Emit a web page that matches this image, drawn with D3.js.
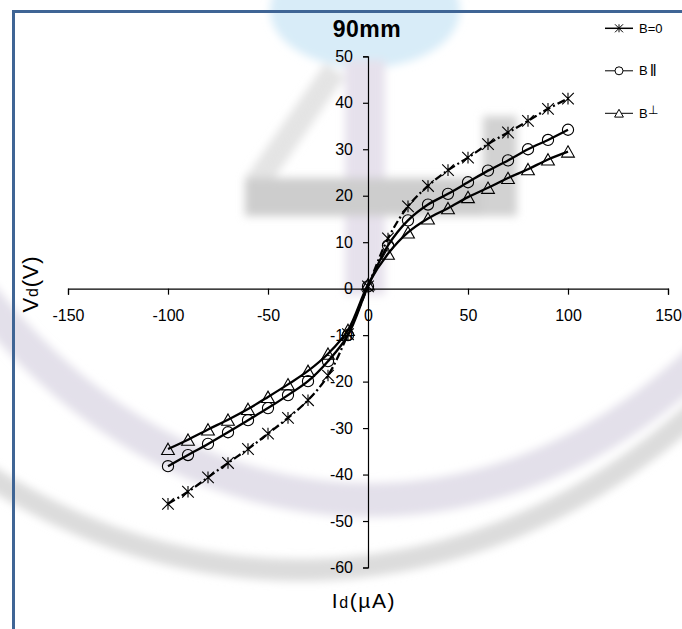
<!DOCTYPE html>
<html>
<head>
<meta charset="utf-8">
<script src="https://cdn.jsdelivr.net/npm/d3@7"></script>
<style>
  html, body { margin: 0; padding: 0; background: #fff; }
  svg { display: block; font-family: "Liberation Sans", Arial, sans-serif; }
</style>
</head>
<body>
<svg id="chart" width="682" height="629"></svg>
<script>
// Diode current (µA) and voltage (V) readings at 90 mm
const current = [-100, -90, -80, -70, -60, -50, -40, -30, -20, -10, 0, 10, 20, 30, 40, 50, 60, 70, 80, 90, 100];
const voltB0   = [-46.3, -43.7, -40.6, -37.5, -34.5, -31.2, -27.8, -24.0, -18.7, -9.8, 0.5, 10.8, 17.7, 22.1, 25.5, 28.2, 31.1, 33.6, 36.1, 38.7, 40.9];
const voltPar  = [-38.2, -35.8, -33.4, -30.9, -28.3, -25.7, -22.9, -19.9, -15.6, -10.0, 0.5, 9.3, 14.7, 18.1, 20.4, 22.9, 25.4, 27.6, 30.0, 32.0, 34.2];
const voltPerp = [-34.5, -32.5, -30.3, -28.2, -25.9, -23.3, -20.6, -17.7, -14.0, -8.9, 0.9, 7.5, 12.1, 15.1, 17.3, 19.7, 21.7, 23.8, 25.7, 27.8, 29.5];

const seriesNames = ["B=0", "B\u2016", "B\u22A5"];
const xTicks = [-150, -100, -50, 0, 50, 100, 150];
const yTicks = [-60, -50, -40, -30, -20, -10, 0, 10, 20, 30, 40, 50];
const titleText = "90mm";

const svg = d3.select("#chart");

// faint background emblem
const defs = svg.append("defs");
defs.append("filter").attr("id", "soft")
  .append("feGaussianBlur").attr("stdDeviation", 4);

const bg = svg.append("g").attr("filter", "url(#soft)");
bg.append("ellipse").attr("cx", 365).attr("cy", 10).attr("rx", 95).attr("ry", 58)
  .attr("fill", "#d8ecf8");
bg.append("rect").attr("x", 345).attr("y", 60).attr("width", 40).attr("height", 235)
  .attr("fill", "#e6e1ec");
bg.append("line").attr("x1", 255).attr("y1", 185).attr("x2", 335).attr("y2", 70)
  .attr("stroke", "#e4e4e4").attr("stroke-width", 24);
bg.append("rect").attr("x", 245).attr("y", 178).attr("width", 272).attr("height", 38)
  .attr("fill", "#cdcdcd");
bg.append("rect").attr("x", 483).attr("y", 116).attr("width", 34).attr("height", 100)
  .attr("fill", "#d2d2d2");
const arc = (cx, cy, rx, ry) => {
  const p = d3.path();
  const n = 120;
  for (let i = 0; i <= n; i++) {
    const px = -20 + (722 * i) / n;
    const u = (px - cx) / rx;
    const py = cy + ry * Math.sqrt(Math.max(0, 1 - u * u));
    if (i === 0) p.moveTo(px, py); else p.lineTo(px, py);
  }
  return p.toString();
};
bg.append("path").attr("d", arc(370, -200, 550, 700)).attr("fill", "none")
  .attr("stroke", "#e3e0ea").attr("stroke-width", 34);
bg.append("path").attr("d", arc(300, -200, 650, 770)).attr("fill", "none")
  .attr("stroke", "#dcdcdc").attr("stroke-width", 22);

// frame
svg.append("rect").attr("x", 13.5).attr("y", 11.5).attr("width", 720).attr("height", 700)
  .attr("fill", "none").attr("stroke", "#3f6595").attr("stroke-width", 3);

const x = d3.scaleLinear().domain([-150, 150]).range([68, 668]);
const y = d3.scaleLinear().domain([-60, 50]).range([567.5, 56.3]);
const fmt = d => String(d);

// axes crossing at the origin
const xAxis = d3.axisBottom(x).tickValues(xTicks).tickSize(6).tickPadding(16).tickFormat(fmt);
const gx = svg.append("g").attr("transform", `translate(0,${y(0)})`).call(xAxis);
const yAxis = d3.axisLeft(y).tickValues(yTicks).tickSize(5).tickPadding(10).tickSizeOuter(5).tickFormat(fmt);
const gy = svg.append("g").attr("transform", `translate(${x(0)},0)`).call(yAxis);
[gx, gy].forEach(g => {
  g.selectAll("path, line").attr("stroke", "#000").attr("stroke-width", 1.2);
  g.selectAll("text").attr("fill", "#000").attr("font-size", 16)
    .attr("font-family", "'Liberation Sans', Arial, sans-serif");
});
gx.selectAll("text").attr("dy", "0.66em");

// series
const series = [
  { name: seriesNames[0], values: voltB0, marker: "star", dash: "8,3,2,3" },
  { name: seriesNames[1], values: voltPar, marker: "circle", dash: null },
  { name: seriesNames[2], values: voltPerp, marker: "triangle", dash: null }
];

const markerPath = (type, s) => {
  const p = d3.path();
  if (type === "circle") {
    p.moveTo(s, 0); p.arc(0, 0, s, 0, 2 * Math.PI);
  } else if (type === "triangle") {
    p.moveTo(0, -s); p.lineTo(s * 1.1, s * 0.95); p.lineTo(-s * 1.1, s * 0.95); p.closePath();
  } else {
    p.moveTo(0, -s); p.lineTo(0, s);
    p.moveTo(-s, -s); p.lineTo(s, s);
    p.moveTo(-s, s); p.lineTo(s, -s);
  }
  return p.toString();
};

const line = d3.line().x(d => x(d[0])).y(d => y(d[1])).curve(d3.curveCatmullRom.alpha(0.5));

series.forEach(s => {
  const pts = current.map((c, i) => [c, s.values[i]]);
  svg.append("path").datum(pts).attr("d", line)
    .attr("fill", "none").attr("stroke", "#000").attr("stroke-width", 2.3)
    .attr("stroke-dasharray", s.dash);
  svg.append("g").selectAll("path").data(pts).join("path")
    .attr("transform", d => `translate(${x(d[0])},${y(d[1])})`)
    .attr("d", markerPath(s.marker, s.marker === "circle" ? 5.6 : 5.8))
    .attr("fill", "none").attr("stroke", "#000").attr("stroke-width", 1.1);
});

// title
svg.append("text").attr("x", 367).attr("y", 37).attr("text-anchor", "middle")
  .attr("font-size", 23).attr("font-weight", "bold").attr("letter-spacing", 0.5).text(titleText);

// legend
const legend = svg.append("g");
series.forEach((s, i) => {
  const ly = 28.3 + i * 42.5;
  legend.append("line").attr("x1", 605).attr("x2", 633).attr("y1", ly).attr("y2", ly)
    .attr("stroke", "#000").attr("stroke-width", i === 0 ? 1.5 : 1);
  legend.append("path").attr("transform", `translate(619,${ly})`)
    .attr("d", markerPath(s.marker, 4)).attr("fill", "#fff").attr("stroke", "#000").attr("stroke-width", 1);
  const t = legend.append("text").attr("x", 639).attr("y", ly).attr("dy", "0.35em").attr("font-size", 13);
  if (i === 1) {
    t.append("tspan").text("B");
    t.append("tspan").attr("dx", 2).attr("font-size", 17).attr("dy", "0.05em").text("\u2016");
  } else if (i === 2) {
    t.append("tspan").text("B");
    t.append("tspan").attr("dy", "-0.3em").attr("font-size", 12).text("\u22A5");
  } else {
    t.text(s.name);
  }
});

// axis titles
const yl = svg.append("text").attr("transform", "translate(38,284) rotate(-90)")
  .attr("text-anchor", "middle").attr("font-size", 22).attr("letter-spacing", 0.8);
yl.append("tspan").text("V");
yl.append("tspan").attr("font-size", 16).text("d");
yl.append("tspan").text("(V)");

const xl = svg.append("text").attr("x", 364).attr("y", 608).attr("text-anchor", "middle")
  .attr("font-size", 21).attr("letter-spacing", 1.6);
xl.append("tspan").text("I");
xl.append("tspan").attr("font-size", 16).text("d");
xl.append("tspan").text("(\u00B5A)");
</script>
</body>
</html>
